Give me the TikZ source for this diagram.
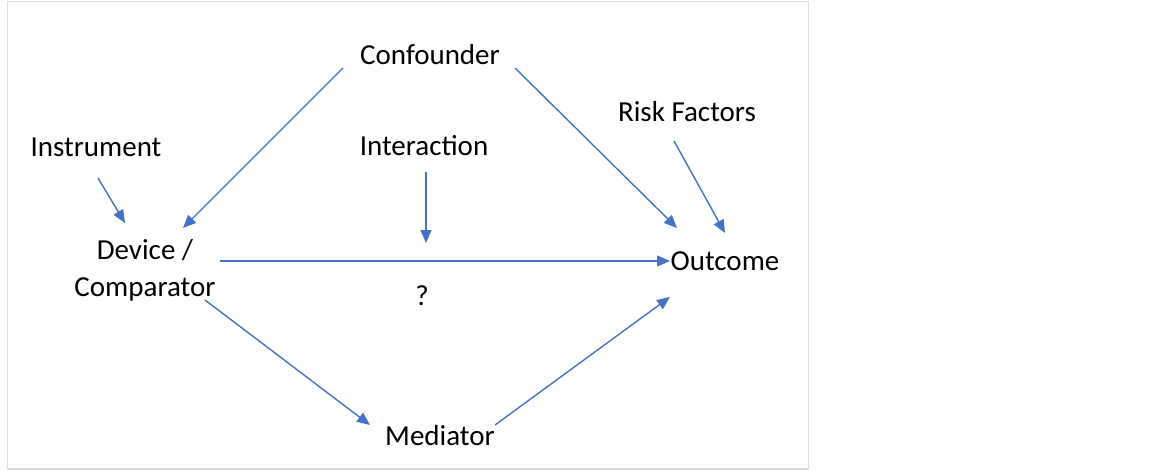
\documentclass[tikz,border=0pt]{standalone}
\usepackage{fontspec}
\setmainfont{Carlito}
\usepackage{xcolor}
\usetikzlibrary{arrows.meta, calc}
\definecolor{arrowblue}{HTML}{4472C4}

\begin{document}
\begin{tikzpicture}[x=1pt, y=-1pt]
        \tikzstyle{label} = [inner sep=0pt, outer sep=0pt, font=\fontsize{29}{37}\selectfont, align=center]
        \tikzstyle{line} = [draw, arrowblue, line width=1.4pt, -{Triangle[length=13pt, width=11pt]}]

        \useasboundingbox (0,0) rectangle (1168,476);
        \draw[black!12, line width=1pt] (7,2) rectangle (808,469);
        \draw[black!14, line width=2pt] (7,469) -- (808,469);

        \node [label] (conf) at (430,55) {Confounder};
        \node [label] (inst) at (96,147) {Instrument};
        \node [label] (inter) at (424,146) {Interaction};
        \node [label] (risk) at (687,112) {Risk Factors};
        \node [label] (dev) at (145,270) {Device /\\Comparator};
        \node [label] (out) at (725,261) {Outcome};
        \node [label] (q) at (422,296) {?};
        \node [label] (med) at (440,436) {Mediator};
        \coordinate (meet) at (426,243);

        \path [line] ([shift={(-87,13)}]conf.center) -- ([shift={(38,-42)}]dev.center);
        \path [line] ([shift={(85,13)}]conf.center) -- ([shift={(-48,-33)}]out.center);
        \path [line] ([shift={(2,31)}]inst.center) -- ([shift={(-20,-47)}]dev.center);
        \path [line] ([shift={(2,26)}]inter.center) -- (meet);
        \path [line] ([shift={(-13,29)}]risk.center) -- ([shift={(0,-28)}]out.center);
        \path [line] ([shift={(75,-9)}]dev.center) -- ([shift={(-55,0)}]out.center);
        \path [line] ([shift={(60,30)}]dev.center) -- ([shift={(-70,-11)}]med.center);
        \path [line] ([shift={(55,-11)}]med.center) -- ([shift={(-55,36)}]out.center);
    \end{tikzpicture}
\end{document}
